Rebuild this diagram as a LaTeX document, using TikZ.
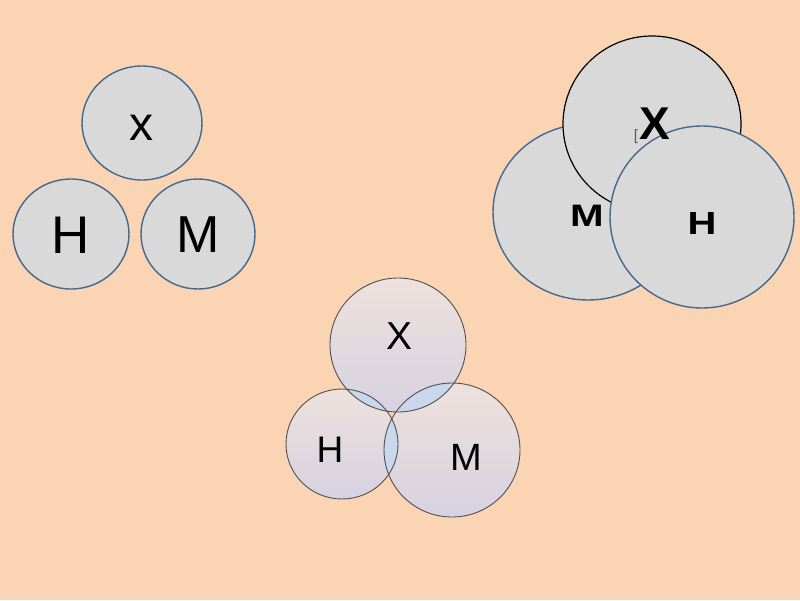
\documentclass[tikz,border=0pt]{standalone}
\usepackage{fontspec}
\setmainfont{Liberation Sans}
\begin{document}
\begin{tikzpicture}[x=1pt,y=-1pt,
  bluering/.style={draw=ringblue,line width=1.4pt,fill=ballgray},
  blackring/.style={draw=black,line width=1.2pt,fill=ballgray},
  softball/.style={top color=softtop,bottom color=softbot,draw=none},
  softring/.style={draw=softline,line width=0.9pt},
  lens/.style={fill=lensblue},
  lbl/.style={inner sep=0pt,text depth=0pt}]
\definecolor{bg}{HTML}{FBD4B3}
\definecolor{ringblue}{HTML}{44698F}
\definecolor{ballgray}{HTML}{D9D9D9}
\definecolor{softtop}{HTML}{EEE1DC}
\definecolor{softbot}{HTML}{D6D2E1}
\definecolor{softline}{HTML}{505050}
\definecolor{lensblue}{HTML}{CAD6EC}
\useasboundingbox (0,0) rectangle (800,600);
\fill[bg] (0,0) rectangle (800,600);

% left group
\coordinate (lx) at (142,123);
\coordinate (lh) at (71,234);
\coordinate (lm) at (198,234);
\path[bluering] (lx) ellipse [x radius=60pt,y radius=57pt];
\path[bluering] (lh) ellipse [x radius=58pt,y radius=55pt];
\path[bluering] (lm) ellipse [x radius=57pt,y radius=55pt];
\node[lbl,font=\fontsize{48}{54}\selectfont] (tlx) at (141,128) {x};
\node[lbl,font=\fontsize{53}{60}\selectfont] (tlh) at (71,235) {H};
\node[lbl,font=\fontsize{52}{60}\selectfont] (tlm) at (198,235) {M};

% right group
\coordinate (rm) at (588,212);
\coordinate (rx) at (652,124);
\coordinate (rh) at (702,217);
\path[bluering] (rm) ellipse [x radius=95pt,y radius=88pt];
\path[blackring] (rx) ellipse [x radius=89pt,y radius=88pt];
\path[bluering] (rh) ellipse [x radius=92pt,y radius=91pt];
\node[lbl,font=\bfseries\fontsize{46}{50}\selectfont] (trx) at (655,124) {X};
\node[lbl,text=black!65,font=\fontsize{15}{18}\selectfont] (trb) at (636,135) {[};
\node[lbl,xscale=1.3,font=\bfseries\fontsize{31}{36}\selectfont] (trm) at (587,216) {M};
\node[lbl,xscale=1.25,font=\bfseries\fontsize{32}{36}\selectfont] (trh) at (702,223) {H};

% bottom group
\coordinate (bx) at (398,345);
\coordinate (bh) at (342,444);
\coordinate (bm) at (452,450);
\shade[softball] (bx) ellipse [x radius=68pt,y radius=67pt];
\shade[softball] (bh) ellipse [x radius=56pt,y radius=55pt];
\shade[softball] (bm) ellipse [x radius=68pt,y radius=67pt];
\begin{scope}
  \clip (bx) ellipse [x radius=68pt,y radius=67pt];
  \fill[lens] (bh) ellipse [x radius=56pt,y radius=55pt];
  \fill[lens] (bm) ellipse [x radius=68pt,y radius=67pt];
\end{scope}
\begin{scope}
  \clip (bh) ellipse [x radius=56pt,y radius=55pt];
  \fill[lens] (bm) ellipse [x radius=68pt,y radius=67pt];
\end{scope}
\draw[softring] (bx) ellipse [x radius=68pt,y radius=67pt];
\draw[softring] (bh) ellipse [x radius=56pt,y radius=55pt];
\draw[softring] (bm) ellipse [x radius=68pt,y radius=67pt];
\node[lbl,font=\fontsize{39}{44}\selectfont] (tbx) at (400,336) {X};
\node[lbl,font=\fontsize{37}{42}\selectfont] (tbh) at (330,450) {H};
\node[lbl,font=\fontsize{38}{42}\selectfont] (tbm) at (466,457) {M};
\end{tikzpicture}
\end{document}
